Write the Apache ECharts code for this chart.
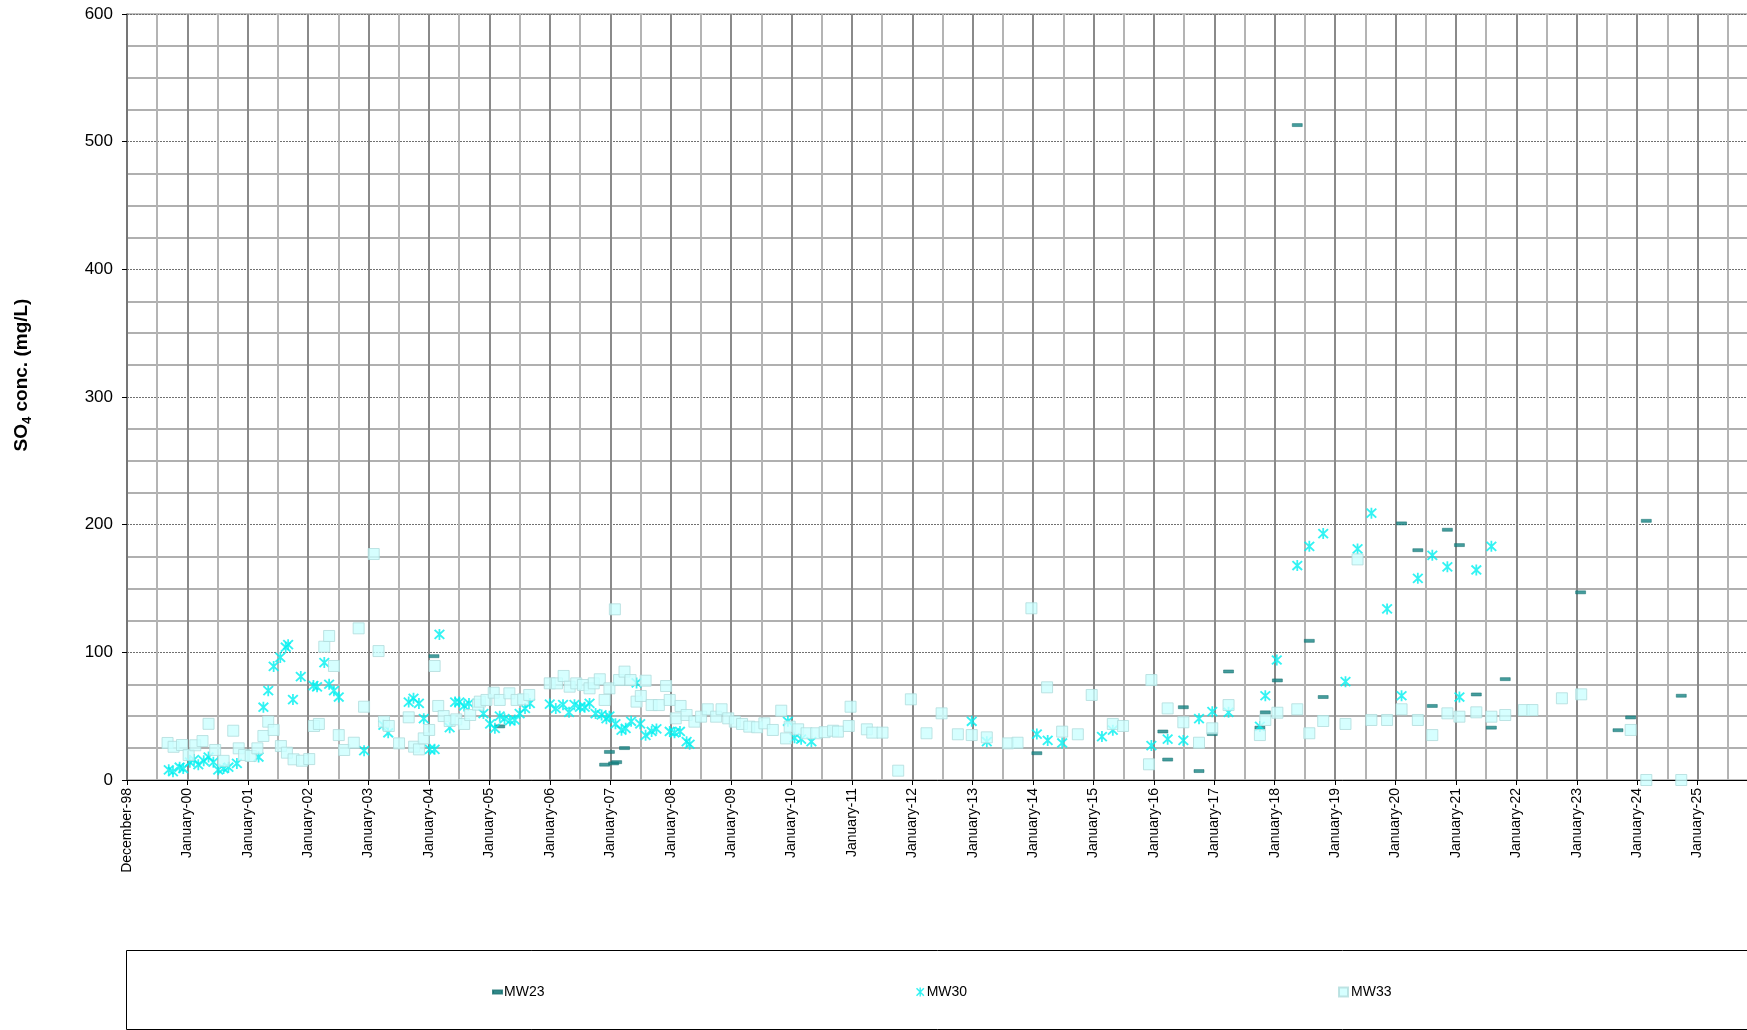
<!DOCTYPE html>
<html><head><meta charset="utf-8">
<script src="https://cdn.jsdelivr.net/npm/echarts/dist/echarts.min.js"></script>
<style>html,body{margin:0;padding:0;background:#fff}#c{width:1747px;height:1030px}</style>
</head><body><div id="c"></div>
<script>
// x-axis tick labels (one every 366 days starting 31 Dec 1998)
const tickLabels = ['December-98','January-00','January-01','January-02','January-03','January-04','January-05','January-06','January-07','January-08','January-09','January-10','January-11','January-12','January-13','January-14','January-15','January-16','January-17','January-18','January-19','January-20','January-21','January-22','January-23','January-24','January-25',''];
const yTicks = [0, 100, 200, 300, 400, 500, 600];

// [decimal year, SO4 mg/L]
const MW23 = [[2004.09,97],[2005.18,42],[2006.92,12],[2007.00,22],[2007.07,13],[2007.12,14],[2007.25,25],[2014.09,21],[2016.18,38],[2016.26,16],[2016.52,57],[2016.78,7],[2017.00,36],[2017.27,85],[2017.79,41],[2017.88,53],[2018.08,78],[2018.41,513],[2018.61,109],[2018.84,65],[2020.14,201],[2020.41,180],[2020.65,58],[2020.90,196],[2021.10,184],[2021.38,67],[2021.63,41],[2021.86,79],[2023.11,147],[2023.73,39],[2023.94,49],[2024.20,203],[2024.78,66]];

const MW30 = [[1999.69,8],[1999.76,6.5],[1999.87,10],[1999.93,9],[2000.04,14],[2000.11,16],[2000.18,12],[2000.27,15],[2000.35,18],[2000.43,14],[2000.51,8],[2000.60,9],[2000.68,10],[2000.82,13],[2001.18,18],[2001.26,57],[2001.34,70],[2001.43,89],[2001.54,96],[2001.63,104],[2001.67,106],[2001.75,63],[2001.88,81],[2002.09,74],[2002.15,73],[2002.27,92],[2002.35,75],[2002.43,70],[2002.51,65],[2002.93,23],[2003.25,43],[2003.33,37],[2003.67,61],[2003.75,64],[2003.84,60],[2003.92,48],[2004.02,24],[2004.10,24],[2004.18,114],[2004.35,41],[2004.44,61],[2004.51,61],[2004.59,58],[2004.67,60],[2004.91,52],[2005.02,44],[2005.10,40.5],[2005.18,50],[2005.26,48],[2005.35,46.5],[2005.43,47],[2005.51,52],[2005.60,56],[2005.68,60],[2006.01,59.5],[2006.11,56],[2006.23,59],[2006.33,53],[2006.42,59],[2006.51,57],[2006.59,57],[2006.67,60],[2006.77,52],[2006.87,51],[2006.95,48],[2007.00,50],[2007.10,44],[2007.20,39],[2007.27,40.5],[2007.36,46],[2007.45,76],[2007.51,44],[2007.60,35],[2007.70,38],[2007.78,40],[2008.00,38],[2008.08,37],[2008.17,38],[2008.28,30],[2008.33,28],[2009.96,46],[2010.07,33],[2010.18,32],[2010.35,30],[2013.01,46],[2013.26,30],[2014.09,36],[2014.27,31],[2014.51,29],[2015.17,34],[2015.35,39],[2015.99,27],[2016.26,32],[2016.52,31],[2016.78,48],[2017.00,53.5],[2017.27,53],[2017.79,42],[2017.88,66],[2018.07,94],[2018.41,168],[2018.61,183],[2018.84,193],[2019.21,77],[2019.41,181],[2019.64,209],[2019.90,134],[2020.14,66],[2020.41,158],[2020.65,176],[2020.90,167],[2021.10,65],[2021.38,164.5],[2021.63,183]];

const MW33 = [[1999.67,29],[1999.77,26],[1999.91,27.4],[2000.02,19.6],[2000.13,27.2],[2000.25,30.5],[2000.35,44],[2000.46,23.5],[2000.60,15],[2000.76,38.6],[2000.85,24.8],[2000.94,19.6],[2001.05,18.8],[2001.16,24.8],[2001.26,34.5],[2001.34,45.7],[2001.43,39.2],[2001.55,26.6],[2001.65,21.4],[2001.76,16.2],[2001.90,15.1],[2002.02,16.4],[2002.10,42.3],[2002.18,43.9],[2002.27,104.4],[2002.35,112.8],[2002.43,89.3],[2002.51,35.2],[2002.60,23.5],[2002.76,29.2],[2002.84,118.8],[2002.93,57.4],[2003.09,177],[2003.17,101],[2003.26,45.7],[2003.34,42.3],[2003.51,28.7],[2003.67,49.1],[2003.76,26.1],[2003.84,24],[2003.92,32.6],[2004.01,39.2],[2004.10,89.3],[2004.16,58],[2004.25,50.1],[2004.35,46.2],[2004.46,47.5],[2004.59,43.9],[2004.69,50.9],[2004.82,59],[2004.85,61.4],[2004.96,62.7],[2005.08,68.4],[2005.18,62.7],[2005.34,67.9],[2005.46,62.7],[2005.57,63.2],[2005.67,66.6],[2006.01,75.7],[2006.13,75.7],[2006.24,81.5],[2006.34,73.1],[2006.45,75.7],[2006.56,74.4],[2006.67,71.8],[2006.74,75.7],[2006.84,78.9],[2006.92,62.7],[2007.00,71.8],[2007.09,133.7],[2007.16,78.3],[2007.25,84.9],[2007.35,78.3],[2007.45,61.4],[2007.52,65.8],[2007.60,77.8],[2007.70,58.7],[2007.82,58.7],[2007.94,73.6],[2008.00,62.7],[2008.10,48.3],[2008.18,58],[2008.28,50.9],[2008.41,45.7],[2008.52,49.6],[2008.63,55.4],[2008.77,49.6],[2008.86,55.4],[2008.97,48.3],[2009.08,45.7],[2009.20,43.9],[2009.32,41.8],[2009.45,41.3],[2009.57,44.4],[2009.71,39.2],[2009.85,54.3],[2009.93,32.6],[2009.99,41.8],[2010.13,39.7],[2010.27,36.6],[2010.43,36.6],[2010.57,37.5],[2010.71,38.6],[2010.79,37.9],[2010.97,42.3],[2011.00,57.4],[2011.27,39.7],[2011.36,37.1],[2011.53,37.1],[2011.79,7.3],[2012.00,63.2],[2012.26,36.6],[2012.51,52.2],[2012.78,35.8],[2013.01,35.2],[2013.26,33.4],[2013.61,28.7],[2013.77,29.2],[2014.00,134.5],[2014.26,72.6],[2014.51,37.9],[2014.77,35.8],[2015.00,66.6],[2015.35,43.9],[2015.52,42.3],[2015.95,12.3],[2015.99,78.3],[2016.26,56.1],[2016.52,45.2],[2016.78,29.2],[2017.00,40.5],[2017.27,58.7],[2017.79,35.2],[2017.88,47],[2018.08,52.7],[2018.41,55.4],[2018.61,36.6],[2018.84,46.2],[2019.21,43.9],[2019.41,172.8],[2019.64,47],[2019.90,47],[2020.14,55.4],[2020.41,47],[2020.65,35.2],[2020.90,52.2],[2021.10,49.6],[2021.38,53],[2021.63,49.6],[2021.86,50.9],[2022.17,54.8],[2022.31,54.8],[2022.80,64],[2023.12,67.1],[2023.94,39.2],[2024.20,0],[2024.78,0]];

const TICK_DAYS = 366;
function toDays(yr) { return (yr - 1999) * 365.25 + 1; }
function toData(arr) { return arr.map(p => [toDays(p[0]), p[1]]); }

const FONT = 'Liberation Sans, Arial, sans-serif';
const STAR = 'path://M4.25,0L5.75,0L5.75,10L4.25,10Z M1.5,0.35L9.65,8.5L8.5,9.65L0.35,1.5Z M8.5,0.35L9.65,1.5L1.5,9.65L0.35,8.5Z';

const chart = echarts.init(document.getElementById('c'), null, {renderer: 'canvas'});
chart.setOption({
  backgroundColor: '#ffffff',
  animation: false,
  grid: {left: 127, top: 14, width: 1631, height: 766, show: true, borderColor: '#7f7f7f', borderWidth: 1,
    backgroundColor: 'transparent', containLabel: false, outerBoundsMode: 'none'},
  xAxis: {
    type: 'value', min: 0, max: TICK_DAYS * (tickLabels.length - 1), interval: TICK_DAYS,
    axisLine: {show: true, lineStyle: {color: '#000', width: 1}},
    axisTick: {show: true, length: 5, lineStyle: {color: '#000'}},
    axisLabel: {rotate: 90, margin: 8, fontFamily: FONT, fontSize: 14, color: '#000',
      showMaxLabel: false,
      formatter: v => tickLabels[Math.round(v / TICK_DAYS)] || ''},
    splitLine: {show: true, lineStyle: {color: '#8a8a8a', width: 2}},
    minorTick: {show: false, splitNumber: 2},
    minorSplitLine: {show: true, lineStyle: {color: '#b4b4b4', width: 2}}
  },
  yAxis: {
    type: 'value', min: yTicks[0], max: yTicks[yTicks.length - 1], interval: 100,
    axisLine: {show: true, lineStyle: {color: '#6e6e6e', width: 1.5}},
    axisTick: {show: true, length: 5, lineStyle: {color: '#000'}},
    axisLabel: {margin: 14, fontFamily: FONT, fontSize: 17, color: '#000'},
    splitLine: {show: true, lineStyle: {color: '#707070', width: 1, type: [2, 1]}},
    minorTick: {show: false, splitNumber: 4},
    minorSplitLine: {show: true, lineStyle: {color: '#b0b0b0', width: 2}}
  },
  legend: [
    {data: ['MW23'], left: 487, top: 980, itemWidth: 9, itemHeight: 3, itemGap: 4, textStyle: {fontFamily: FONT, fontSize: 14, color: '#000', padding: [0,0,0,-3]}},
    {data: ['MW30'], left: 911, top: 980, itemWidth: 9, itemHeight: 9, textStyle: {fontFamily: FONT, fontSize: 14, color: '#000', padding: [0,0,0,-3]}},
    {data: ['MW33'], left: 1333, top: 980, itemWidth: 9, itemHeight: 9, textStyle: {fontFamily: FONT, fontSize: 14, color: '#000', padding: [0,0,0,-2]}}
  ],
  graphic: [
    {type: 'rect', left: 124, top: 948, shape: {width: 1700, height: 79}, style: {fill: 'none', stroke: '#000', lineWidth: 1}, silent: true},
    {type: 'text', x: 22, y: 375, rotation: Math.PI / 2, silent: true,
      style: {text: '{a|SO}{b|4}{a| conc. (mg/L)}', align: 'center', verticalAlign: 'middle',
        rich: {a: {fontFamily: FONT, fontWeight: 'bold', fontSize: 19, lineHeight: 24, fill: '#000'},
               b: {fontFamily: FONT, fontWeight: 'bold', fontSize: 13, lineHeight: 24, verticalAlign: 'bottom', fill: '#000', padding: [9, 0, 0, 0]}}}}
  ],
  series: [
    {name: 'MW23', type: 'scatter', data: toData(MW23), symbol: 'rect', symbolSize: [10, 3],
      itemStyle: {color: '#178585', borderColor: '#0e6a6a', borderWidth: 0.5}, z: 2},
    {name: 'MW30', type: 'scatter', data: toData(MW30), symbol: STAR, symbolSize: 11,
      itemStyle: {color: '#00f0f0'}, z: 3},
    {name: 'MW33', type: 'scatter', data: toData(MW33), symbol: 'rect', symbolSize: 11,
      itemStyle: {color: '#ccffff', borderColor: '#b0dcdc', borderWidth: 1}, z: 4}
  ]
});
</script>
</body></html>
